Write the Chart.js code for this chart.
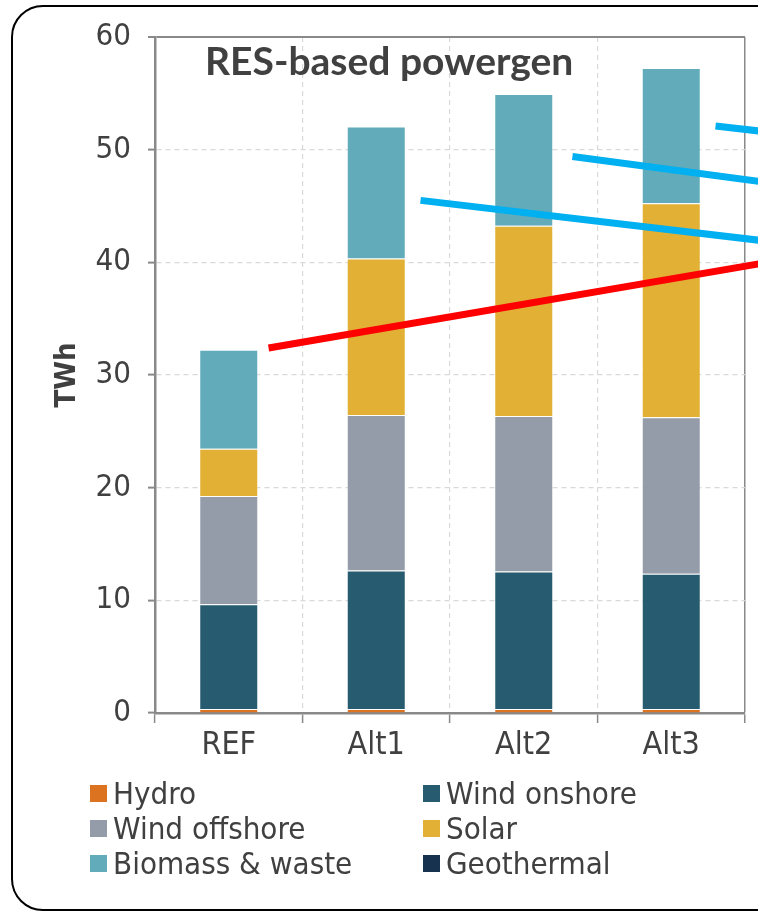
<!DOCTYPE html>
<html>
<head>
<meta charset="utf-8">
<script src="https://cdn.jsdelivr.net/npm/chart.js@4.4.1/dist/chart.umd.min.js"></script>
<style>
  html, body { margin: 0; padding: 0; background: #fff; }
  body { width: 758px; height: 912px; overflow: hidden; position: relative; }
  #frame {
    position: absolute; left: 11px; top: 5px; width: 820px; height: 906px;
    border: 2.5px solid #000; border-radius: 32px; box-sizing: border-box;
  }
  #wrap { position: absolute; left: 0; top: 0; width: 758px; height: 912px; }
  #title {
    position: absolute; left: 205px; top: 37px;
    font: bold 39px Lato, "Open Sans", sans-serif; color: #404040; white-space: nowrap;
  }
  #legend { position: absolute; left: 0; top: 0; }
  .item {
    position: absolute; display: flex; align-items: center; white-space: nowrap;
    font: 31px "DejaVu Sans Condensed", "DejaVu Sans", sans-serif; color: #404040;
  }
  .item span.box { width: 17px; height: 17px; margin-right: 6px; display: inline-block; }
</style>
</head>
<body>
<div id="frame"></div>
<div id="wrap"><canvas id="chart" width="758" height="912"></canvas></div>
<div id="title">RES-based powergen</div>
<div id="legend"></div>
<script>
// scenarios on the x axis
const scenarios = ['REF', 'Alt1', 'Alt2', 'Alt3'];

// TWh per technology, stacked from bottom to top
const hydro        = [0.35, 0.35, 0.35, 0.35];
const windOnshore  = [9.3, 12.3, 12.2, 12.0];
const windOffshore = [9.6, 13.8, 13.8, 13.9];
const solar        = [4.2, 13.9, 16.9, 19.0];
const biomass      = [8.8, 11.7, 11.7, 12.0];
const geothermal   = [0, 0, 0, 0];

const seriesNames  = ['Hydro', 'Wind onshore', 'Wind offshore', 'Solar', 'Biomass & waste', 'Geothermal'];
const seriesColors = ['#DC7321', '#275B6F', '#939CA8', '#E1B034', '#61ABBA', '#17324F'];
const seriesValues = [hydro, windOnshore, windOffshore, solar, biomass, geothermal];

const yTicks = [0, 10, 20, 30, 40, 50, 60];

// trend lines drawn over the bars: [x (category index), y (TWh)] start and end
const redLine   = [[0.27, 32.4], [3.7, 40.1]];
const blueLines = [
  [[1.30, 45.5], [3.7, 41.8]],
  [[2.33, 49.4], [3.7, 47.0]],
  [[3.30, 52.1], [3.7, 51.5]]
];

const axisGray = '#898989';
const gridGray = '#D9D9D9';
const fontFamily = '"DejaVu Sans Condensed", "DejaVu Sans", sans-serif';

const trendLines = {
  id: 'trendLines',
  afterDatasetsDraw(chart) {
    const { ctx, scales: { x, y } } = chart;
    const draw = (seg, color) => {
      ctx.save();
      ctx.strokeStyle = color;
      ctx.lineWidth = 7;
      ctx.lineCap = 'butt';
      ctx.beginPath();
      ctx.moveTo(x.getPixelForValue(seg[0][0]), y.getPixelForValue(seg[0][1]));
      ctx.lineTo(x.getPixelForValue(seg[1][0]), y.getPixelForValue(seg[1][1]));
      ctx.stroke();
      ctx.restore();
    };
    blueLines.forEach(seg => draw(seg, '#00B0F0'));
    draw(redLine, '#FF0000');
  }
};

const chart = new Chart(document.getElementById('chart'), {
  type: 'bar',
  data: {
    labels: scenarios,
    datasets: seriesNames.map((name, i) => ({
      label: name,
      data: seriesValues[i],
      backgroundColor: seriesColors[i],
      borderColor: 'rgba(255,255,255,0.3)',
      borderWidth: 1,
      barPercentage: 0.8,
      categoryPercentage: 0.5
    }))
  },
  options: {
    responsive: false,
    animation: false,
    layout: { padding: { left: 50, top: 37, right: 13, bottom: 139 } },
    plugins: { legend: { display: false }, tooltip: { enabled: false } },
    scales: {
      x: {
        stacked: true,
        afterFit: (scale) => { scale.height = 60; },
        grid: {
          offset: true,
          color: (c) => c.index === undefined ? axisGray : gridGray,
          lineWidth: (c) => c.index === undefined ? 1.5 : 1.2,
          tickColor: axisGray,
          tickWidth: 1.5,
          tickLength: 10
        },
        border: {
          color: axisGray, width: 2.5,
          dash: (c) => c.index === undefined ? [] : [5, 4]
        },
        ticks: { font: { family: fontFamily, size: 32 }, color: '#404040', padding: 3 }
      },
      y: {
        stacked: true,
        min: 0,
        max: 60,
        afterBuildTicks: (scale) => { scale.ticks = yTicks.map(v => ({ value: v })); },
        afterFit: (scale) => { scale.width = 105; },
        grid: {
          color: (c) => c.tick && c.tick.value === 60 ? axisGray : gridGray,
          lineWidth: (c) => c.tick && c.tick.value === 60 ? 2 : 1.2,
          tickColor: axisGray,
          tickWidth: 2,
          tickLength: 7
        },
        border: {
          color: axisGray, width: 2.5,
          dash: (c) => c.tick && c.tick.value === 60 ? [] : [5, 4]
        },
        ticks: { font: { family: fontFamily, size: 31 }, color: '#404040', padding: 17 },
        title: {
          display: true,
          text: 'TWh',
          color: '#404040',
          padding: 0,
          font: { family: fontFamily, size: 29, weight: 'bold' }
        }
      }
    }
  },
  plugins: [trendLines]
});

// two-column legend built from the series
const legend = document.getElementById('legend');
seriesNames.forEach((name, i) => {
  const col = i % 2, row = Math.floor(i / 2);
  const el = document.createElement('div');
  el.className = 'item';
  el.style.left = (col === 0 ? 90 : 423) + 'px';
  el.style.top = (775 + row * 35) + 'px';
  el.innerHTML = '<span class="box" style="background:' + seriesColors[i] + '"></span>' + name;
  legend.appendChild(el);
});
</script>
</body>
</html>
